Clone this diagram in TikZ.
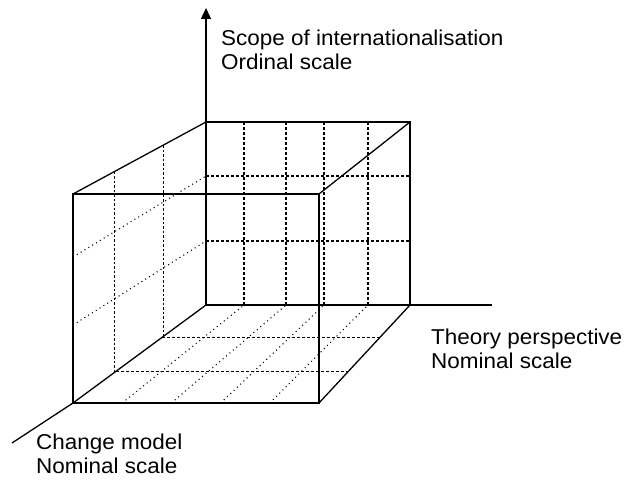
\documentclass[tikz,border=0pt]{standalone}
\usepackage{fontspec}
\setmainfont{Liberation Sans}[FakeStretch=1.045]
\usetikzlibrary{calc,arrows.meta}
\tikzset{
  solidedge/.style={line width=1.3pt, line join=miter},
  gridline/.style={line width=1.2pt, dash pattern=on 3pt off 2pt},
  thinline/.style={line width=0.9pt, dash pattern=on 2.5pt off 2pt},
  dotline/.style={line width=1.1pt, dash pattern=on 1pt off 3.5pt},
  lab/.style={font=\fontsize{21.5}{24}\selectfont, align=left, inner sep=0pt, anchor=north west}
}
\begin{document}
\begin{tikzpicture}[x=1pt,y=-1pt]
\useasboundingbox (0,0) rectangle (627,481);
% corners
\coordinate (O)  at (206,305);
\coordinate (B2) at (410,305);
\coordinate (B3) at (410,122);
\coordinate (B4) at (206,122);
\coordinate (F1) at (73,403);
\coordinate (F2) at (319,403);
\coordinate (F3) at (319,194);
\coordinate (F4) at (73,194);
\coordinate (Zt) at (206,8);
\coordinate (Xe) at (492,305);
\coordinate (Ye) at (12,443);
% back face grid
\foreach \x [count=\i] in {244,286,324,368}{
  \coordinate (bt\i) at (\x,122);
  \coordinate (bb\i) at (\x,305);
  \draw[gridline] (bt\i) -- (bb\i);
}
\coordinate (bl1) at (206,176); \coordinate (br1) at (410,176);
\coordinate (bl2) at (206,241); \coordinate (br2) at (410,241);
\draw[gridline] (bl1) -- (br1);
\draw[gridline] (bl2) -- (br2);
% left face verticals
\draw[thinline] ($(F4)!0.31!(B4)$) -- ($(F1)!0.31!(O)$);
\draw[thinline] ($(F4)!0.68!(B4)$) -- ($(F1)!0.68!(O)$);
% left face diagonals
\coordinate (fl1) at (73,257);
\coordinate (fl2) at (73,325);
\draw[dotline] (fl1) -- (bl1);
\draw[dotline] (fl2) -- (bl2);
% floor horizontals
\draw[gridline] ($(F1)!0.32!(O)$) -- ($(F2)!0.32!(B2)$);
\draw[gridline] ($(F1)!0.67!(O)$) -- ($(F2)!0.67!(B2)$);
% floor diagonals
\foreach \i in {1,2,3,4}{
  \draw[dotline] ($(F1)!\i/5!(F2)$) -- (bb\i);
}
% axes
\draw[solidedge, -{Triangle[width=10pt,length=11pt]}] (O) -- (Zt);
\draw[solidedge] (O) -- (B2) -- (Xe);
\draw[solidedge] (O) -- (F1) -- (Ye);
% cube edges
\draw[solidedge] (B4) -- (B3) -- (B2);
\draw[solidedge] (F1) -- (F2) -- (F3) -- (F4) -- cycle;
\draw[solidedge] (F4) -- (B4);
\draw[solidedge] (F3) -- (B3);
\draw[solidedge] (F2) -- (B2);
% labels
\node[lab] (zlab) at (221,30) {Scope of internationalisation\\Ordinal scale};
\node[lab] (xlab) at (431,329) {Theory perspective\\Nominal scale};
\node[lab] (ylab) at (36,434) {Change model\\Nominal scale};
\end{tikzpicture}
\end{document}
